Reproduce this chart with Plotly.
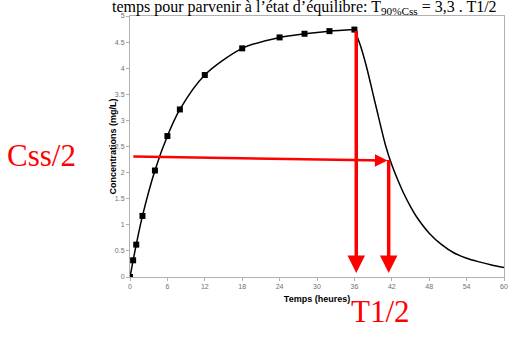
import plotly.graph_objects as go

# Loading phase (with measured points)
t_rise = [0, 0.5, 1, 2, 4, 6, 8, 12, 18, 24, 28, 32, 36]
c_rise = [0, 0.32, 0.62, 1.17, 2.04, 2.70, 3.21, 3.87, 4.38, 4.59, 4.66, 4.71, 4.74]

# Elimination phase (curve only)
t_decay = [36, 37, 38, 39, 40, 41, 42, 43, 44, 45, 46, 48, 50, 52, 54, 56, 58, 60]
c_decay = [4.74, 4.42, 4.00, 3.50, 3.00, 2.52, 2.15, 1.85, 1.58, 1.35, 1.15, 0.84, 0.62, 0.46, 0.36, 0.29, 0.23, 0.18]

x_ticks = [0, 6, 12, 18, 24, 30, 36, 42, 48, 54, 60]
y_ticks = [0, 0.5, 1, 1.5, 2, 2.5, 3, 3.5, 4, 4.5, 5]

# Annotation anchors (data units)
css_half_start = (0.3, 2.31)
css_half_end = (41.3, 2.23)
t_end = 36.3
t_half = 41.5
arrow_tip_y = 0.075

# plot area in pixels, used to place paper-referenced texts
L, R, T, B = 130, 504, 12, 277
def px(x):
    return (x - L) / (R - L)
def py(y):
    return (B - y) / (B - T)

fig = go.Figure()
fig.add_trace(go.Scatter(x=t_decay, y=c_decay, mode="lines",
                         line=dict(color="black", width=1.5, shape="spline", smoothing=0.8),
                         showlegend=False, hoverinfo="skip"))
fig.add_trace(go.Scatter(x=t_rise, y=c_rise, mode="lines+markers",
                         line=dict(color="black", width=1.5, shape="spline", smoothing=0.8),
                         marker=dict(symbol="square", size=6, color="black"),
                         showlegend=False))

red = "#ff0000"
arrows = [
    dict(x=css_half_end[0], y=css_half_end[1], ax=css_half_start[0], ay=css_half_start[1], w=2.5, s=1.0),
    dict(x=t_end, y=arrow_tip_y, ax=t_end, ay=c_rise[-1], w=3.5, s=1.0),
    dict(x=t_half, y=arrow_tip_y, ax=t_half, ay=css_half_end[1] + 0.04, w=3.5, s=1.0),
]
for a in arrows:
    fig.add_annotation(x=a["x"], y=a["y"], ax=a["ax"], ay=a["ay"],
                       xref="x", yref="y", axref="x", ayref="y",
                       text="", showarrow=True, arrowhead=2, arrowsize=a["s"],
                       arrowwidth=a["w"], arrowcolor=red)

serif = "Liberation Serif, Times New Roman, serif"
sans = "Liberation Sans, Arial, sans-serif"
fig.add_annotation(x=px(41), y=py(154), xref="paper", yref="paper",
                   text="Css/2", showarrow=False, xanchor="center", yanchor="middle",
                   font=dict(family=serif, size=31, color=red))
fig.add_annotation(x=px(380), y=py(312), xref="paper", yref="paper",
                   text="T1/2", showarrow=False, xanchor="center", yanchor="middle",
                   font=dict(family=serif, size=31, color=red))
fig.add_annotation(x=px(304.5), y=py(15), xref="paper", yref="paper",
                   text="temps pour parvenir à l’état d’équilibre: T<sub>90%Css</sub> = 3,3 . T1/2",
                   showarrow=False, xanchor="center", yanchor="bottom",
                   font=dict(family=serif, size=16, color="black"))
fig.add_annotation(x=px(112), y=py(144.5), xref="paper", yref="paper",
                   text="<b>Concentrations (mg/L)</b>", textangle=-90,
                   showarrow=False, xanchor="center", yanchor="middle",
                   font=dict(family=sans, size=9, color="black"))

axis_common = dict(showgrid=False, zeroline=False, showline=True, linecolor="#b0b0b0",
                   linewidth=1, mirror=True, ticks="outside", ticklen=3, tickcolor="#b0b0b0",
                   tickfont=dict(family=sans, size=7, color="#707070"))

fig.update_layout(
    width=532, height=351,
    margin=dict(l=L, r=532 - R, t=T, b=351 - B),
    paper_bgcolor="white", plot_bgcolor="white",
    xaxis=dict(range=[0, 60], tickvals=x_ticks, **axis_common,
               title=dict(text="<b>Temps (heures)</b>", standoff=6,
                          font=dict(family=sans, size=9, color="black"))),
    yaxis=dict(range=[0, 5], tickvals=y_ticks, **axis_common),
)

fig.write_html("out.html")
